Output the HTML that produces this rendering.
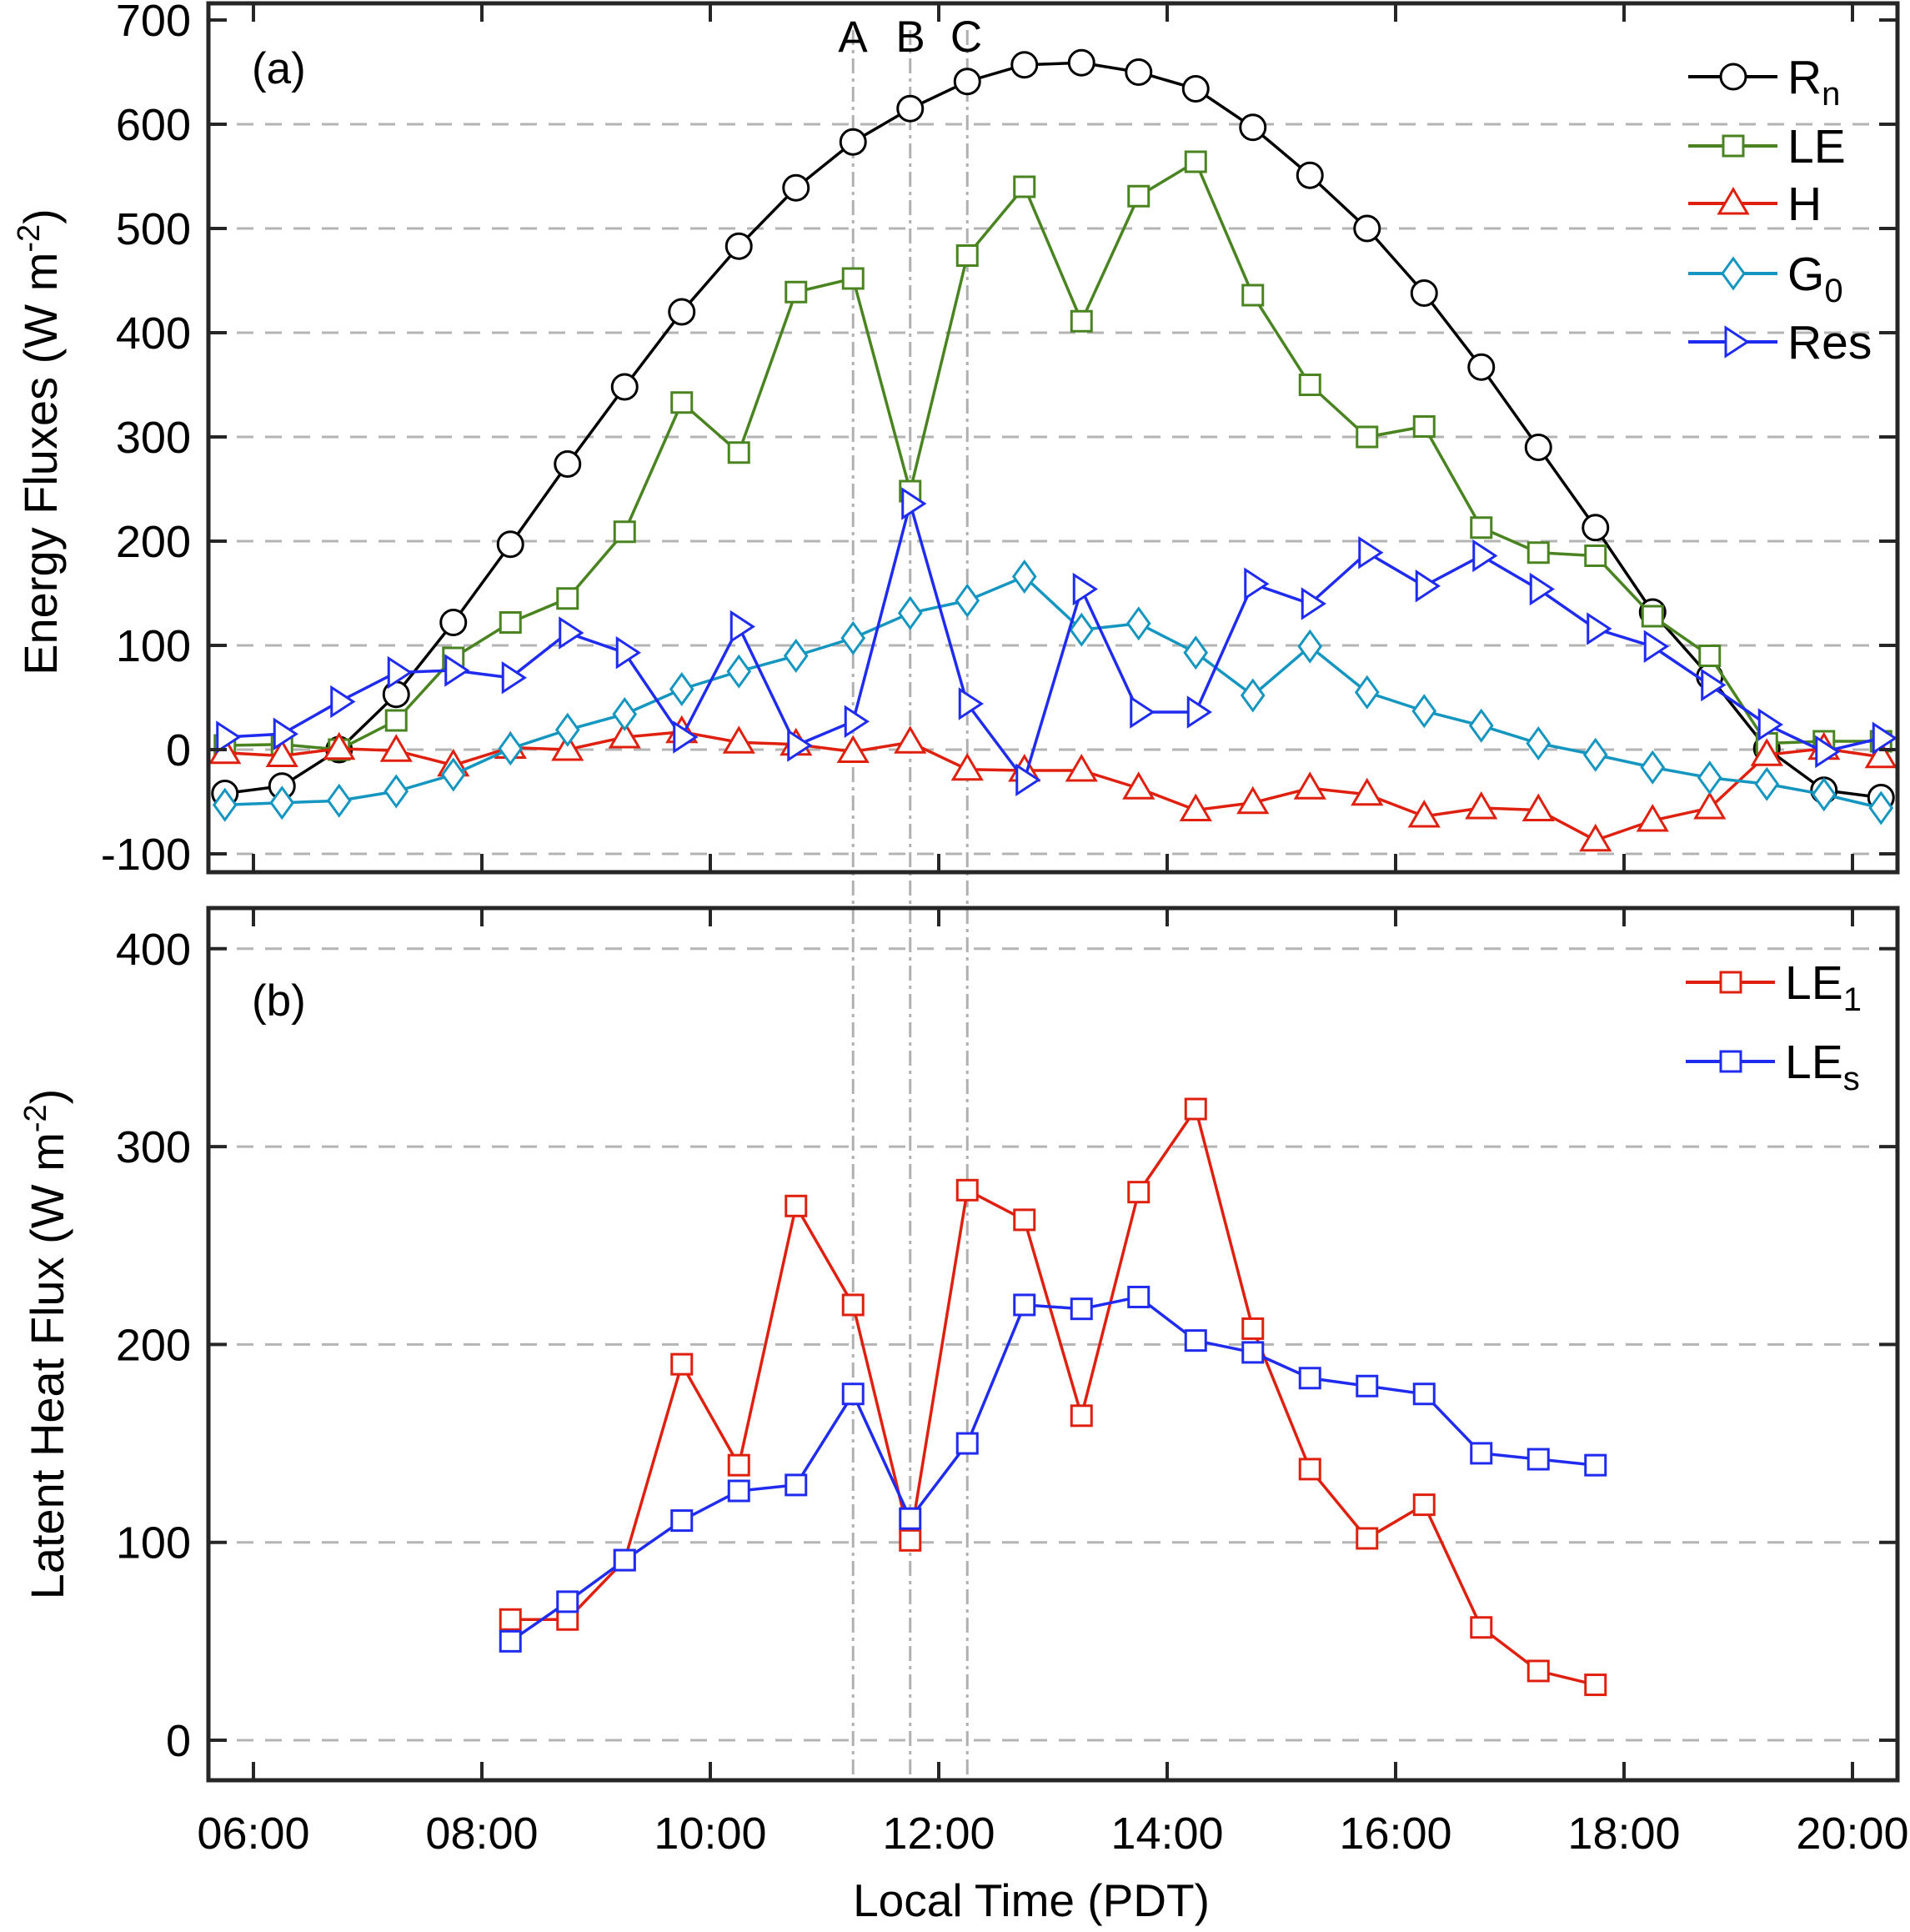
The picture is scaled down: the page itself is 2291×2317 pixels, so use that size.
<!DOCTYPE html>
<html><head><meta charset="utf-8"><style>
html,body{margin:0;padding:0;background:#fff;}
svg{display:block;font-family:"Liberation Sans",Arial,sans-serif;}
</style></head><body>
<svg id="chart" width="2291" height="2317" viewBox="0 0 2291 2317" xmlns="http://www.w3.org/2000/svg">
<g id="grid"></g><g id="marks"></g><g id="axes"></g>
<text x="302" y="100" font-size="53">(a)</text>
<text x="302" y="1218" font-size="53">(b)</text>
<text x="1023" y="62" font-size="53" text-anchor="middle">A</text>
<text x="1092" y="62" font-size="53" text-anchor="middle">B</text>
<text x="1159" y="62" font-size="53" text-anchor="middle">C</text>
<text transform="translate(68,530) rotate(-90)" font-size="56" text-anchor="middle">Energy Fluxes (W m<tspan dy="-21" font-size="38">-2</tspan><tspan dy="21">)</tspan></text>
<text transform="translate(76,1612) rotate(-90)" font-size="56" text-anchor="middle">Latent Heat Flux (W m<tspan dy="-21" font-size="38">-2</tspan><tspan dy="21">)</tspan></text>
<text x="1237" y="2298" font-size="55" text-anchor="middle">Local Time (PDT)</text>
<g id="legend"></g>
</svg>
<script>
const times = [5.75,6.25,6.75,7.25,7.75,8.25,8.75,9.25,9.75,10.25,10.75,11.25,11.75,12.25,12.75,13.25,13.75,14.25,14.75,15.25,15.75,16.25,16.75,17.25,17.75,18.25,18.75,19.25,19.75,20.25];
const rnVals = [-42,-35,0,53,122,197,274,348,420,483,539,583,615,641,657,659,650,634,597,551,500,438,367,290,213,132,70,1,-39,-46];
const leVals = [4,5,0,28,88,122,145,209,333,285,439,452,248,474,540,411,531,564,436,350,300,310,213,189,186,128,90,6,8,8];
const hVals = [-3,-6,1,-1,-15,2,0,12,17,7,5,-2,7,-19,-20,-20,-37,-58,-51,-37,-43,-64,-56,-58,-87,-68,-56,-5,1,-7];
const g0Vals = [-53,-51,-49,-40,-24,1,19,34,58,75,90,107,131,143,166,115,121,93,52,99,55,37,23,6,-5,-17,-27,-33,-43,-56];
const resVals = [12,15,46,74,76,69,112,93,12,118,4,27,236,44,-29,154,36,36,159,140,189,157,186,154,116,99,62,24,-2,11];
const timesB = [8.25,8.75,9.25,9.75,10.25,10.75,11.25,11.75,12.25,12.75,13.25,13.75,14.25,14.75,15.25,15.75,16.25,16.75,17.25,17.75];
const le1Vals = [61,61,91,190,139,270,220,101,278,263,164,277,319,208,137,102,119,57,35,28];
const lesVals = [50,70,91,111,126,129,175,112,150,220,218,224,202,196,183,179,175,145,142,139];
const yTicksA = [-100,0,100,200,300,400,500,600,700];
const yTicksB = [0,100,200,300,400];
const xTicks = [6,8,10,12,14,16,18,20];
const xTickLabels = ["06:00","08:00","10:00","12:00","14:00","16:00","18:00","20:00"];
const refTimes = [11.25,11.75,12.25];

const NS="http://www.w3.org/2000/svg";
const L=250,R=2276,A_T=4,A_B=1046,B_T=1089,B_B=2135;
const xs=t=>304+(t-6)*137;
const yA=v=>899-v*1.25;
const yB=v=>2087-v*2.373;
function mk(tag,attrs,parent){const e=document.createElementNS(NS,tag);for(const k in attrs)e.setAttribute(k,attrs[k]);parent.appendChild(e);return e;}
const grid=document.getElementById('grid'),marks=document.getElementById('marks'),axes=document.getElementById('axes'),legend=document.getElementById('legend');

function panel(yf,ticks,top,bot,nm){
  ticks.forEach(v=>{
    const y=yf(v);
    if(v!==ticks[ticks.length-1]||nm==='b'){
      const g=mk('line',{x1:L,x2:R,y1:y,y2:y,stroke:'#b4b4b4','stroke-width':3,'stroke-dasharray':'20 14'},grid);
      
      
    }
    const t1=mk('line',{x1:L,x2:L+22,y1:y,y2:y,stroke:'#262626','stroke-width':4},axes);
    
    
    const t2=mk('line',{x1:R-22,x2:R,y1:y,y2:y,stroke:'#262626','stroke-width':4},axes);
    
    
    const tx=mk('text',{x:229,y:y+19,'font-size':54,'text-anchor':'end'},axes);
    tx.textContent=v;
    
    
  });
  xTicks.forEach(t=>{
    const x=xs(t);
    const a=mk('line',{x1:x,x2:x,y1:top,y2:top+22,stroke:'#262626','stroke-width':4},axes);
    
    
    const b=mk('line',{x1:x,x2:x,y1:bot-22,y2:bot,stroke:'#262626','stroke-width':4},axes);
    
    
  });
  const f=mk('rect',{x:L,y:top,width:R-L,height:bot-top,fill:'none',stroke:'#262626','stroke-width':5},axes);
  
  
}
panel(yA,yTicksA,A_T,A_B,'a');
panel(yB,yTicksB,B_T,B_B,'b');
xTicks.forEach((t,i)=>{
  const tx=mk('text',{x:xs(t),y:2217,'font-size':54,'text-anchor':'middle'},axes);
  tx.textContent=xTickLabels[i];
  
  
});
refTimes.forEach(t=>{
  const l=mk('line',{x1:xs(t),x2:xs(t),y1:36,y2:B_B,stroke:'#b0b0b0','stroke-width':3,'stroke-dasharray':'18 6 4 6'},grid);
  
  
});

function marker(type,x,y,color,parent){
  let e;
  if(type==='circle') e=mk('circle',{cx:x,cy:y,r:15},parent);
  else if(type==='square') e=mk('rect',{x:x-12,y:y-12,width:24,height:24},parent);
  else if(type==='tri') e=mk('polygon',{points:`${x},${y-17} ${x+17},${y+12} ${x-17},${y+12}`},parent);
  else if(type==='diamond') e=mk('polygon',{points:`${x},${y-18} ${x+13},${y} ${x},${y+18} ${x-13},${y}`},parent);
  else e=mk('polygon',{points:`${x-9},${y-17} ${x+17},${y} ${x-9},${y+17}`},parent);
  e.setAttribute('fill','#fff');e.setAttribute('stroke',color);e.setAttribute('stroke-width',3);
  return e;
}
function series(ts,vals,yf,color,type,nm){
  const g=mk('g',{},marks);
  
  
  const pts=ts.map((t,i)=>xs(t)+','+yf(vals[i])).join(' ');
  const pl=mk('polyline',{points:pts,fill:'none',stroke:color,'stroke-width':3.5},g);
  
  
  ts.forEach((t,i)=>{
    const m=marker(type,xs(t),yf(vals[i]),color,g);
    
    
  });
}
series(times,rnVals,yA,'#000','circle','rn');
series(times,leVals,yA,'#4a8421','square','le');
series(times,hVals,yA,'#e0200f','tri','h');
series(times,g0Vals,yA,'#1596c0','diamond','g0');
series(times,resVals,yA,'#1f2cf0','right','res');
series(timesB,le1Vals,yB,'#e0200f','square','le1');
series(timesB,lesVals,yB,'#1f2cf0','square','les');

function legItem(y,color,type,main,sub,nm,x0){
  const g=mk('g',{},legend);
  
  
  mk('line',{x1:x0,x2:x0+107,y1:y,y2:y,stroke:color,'stroke-width':4},g);
  marker(type,x0+54,y,color,g);
  const t=mk('text',{x:x0+119,y:y+20,'font-size':57},g);
  t.textContent=main;
  if(sub){const s=mk('tspan',{'font-size':40,dy:14},t);s.textContent=sub;}
}
legItem(92,'#000','circle','R','n','rn',2025);
legItem(175,'#4a8421','square','LE','','le',2025);
legItem(244,'#e0200f','tri','H','','h',2025);
legItem(328,'#1596c0','diamond','G','0','g0',2025);
legItem(410,'#1f2cf0','right','Res','','res',2025);
legItem(1178,'#e0200f','square','LE','1','le1',2022);
legItem(1273,'#1f2cf0','square','LE','s','les',2022);
</script>
</body></html>
